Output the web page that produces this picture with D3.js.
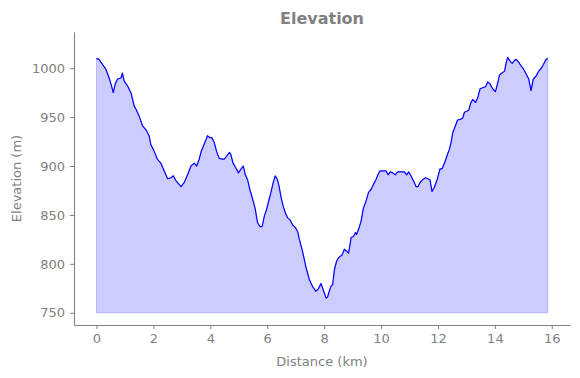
<!DOCTYPE html>
<html>
<head>
<meta charset="utf-8">
<script src="https://cdn.jsdelivr.net/npm/d3@7"></script>
<style>
  body { margin: 0; background: #fff; }
  svg { font-family: "DejaVu Sans", sans-serif; }
</style>
</head>
<body>
<svg id="svg" width="580" height="378"></svg>
<script>
const distance = [
	0, 0.09, 0.21, 0.33, 0.42, 0.51, 0.59, 0.66, 0.74, 0.86, 0.91, 0.97, 1.09, 1.21, 1.33, 1.39, 1.50, 1.62, 1.74, 1.85,
	1.91, 2.03, 2.14, 2.26, 2.38, 2.50, 2.62, 2.70, 2.79, 2.88, 2.97, 3.08, 3.20, 3.32, 3.44, 3.52, 3.61, 3.67, 3.75, 3.85,
	3.90, 3.99, 4.06, 4.14, 4.22, 4.31, 4.41, 4.49, 4.57, 4.67, 4.72, 4.80, 4.90, 4.99, 5.08, 5.16, 5.23, 5.31, 5.39, 5.49,
	5.58, 5.66, 5.75, 5.82, 5.90, 5.98, 6.05, 6.13, 6.21, 6.28, 6.36, 6.42, 6.48, 6.56, 6.64, 6.72, 6.80, 6.89, 6.99, 7.07,
	7.13, 7.24, 7.36, 7.48, 7.59, 7.71, 7.81, 7.89, 7.95, 8.01, 8.07, 8.12, 8.18, 8.24, 8.30, 8.36, 8.44, 8.53, 8.63, 8.71,
	8.79, 8.86, 8.95, 9.03, 9.10, 9.14, 9.24, 9.30, 9.38, 9.47, 9.56, 9.65, 9.73, 9.82, 9.89, 9.96, 10.06, 10.18, 10.25, 10.32,
	10.41, 10.50, 10.58, 10.70, 10.82, 10.90, 10.97, 11.05, 11.14, 11.23, 11.30, 11.37, 11.46, 11.56, 11.64, 11.72, 11.79, 11.87, 11.97, 12.07,
	12.14, 12.23, 12.31, 12.40, 12.46, 12.52, 12.61, 12.69, 12.81, 12.87, 12.93, 13.01, 13.08, 13.16, 13.22, 13.32, 13.40, 13.48, 13.57, 13.67,
	13.75, 13.83, 13.92, 14.02, 14.10, 14.16, 14.25, 14.34, 14.40, 14.45, 14.54, 14.61, 14.69, 14.75, 14.84, 14.93, 15.01, 15.10, 15.19, 15.27,
	15.35, 15.45, 15.54, 15.63, 15.71, 15.80, 15.86
]

const elevation = [
	1010, 1009, 1004, 999, 992, 984, 975, 984, 989, 990, 995, 987, 982, 975, 961, 958, 951, 941, 937, 931,
	922, 915, 907, 903, 895, 887, 888, 890, 885, 882, 879, 883, 891, 900, 903, 900, 907, 914, 920, 927,
	931, 929, 929, 924, 915, 908, 907, 907, 910, 914, 912, 903, 898, 893, 897, 900, 891, 886, 876, 866,
	856, 842, 838, 838, 849, 856, 864, 873, 883, 890, 886, 879, 869, 859, 852, 847, 845, 840, 837, 833,
	825, 813, 797, 784, 777, 772, 775, 780, 775, 770, 765, 766, 772, 777, 779, 794, 803, 807, 809, 815,
	813, 811, 827, 828, 832, 830, 838, 844, 857, 864, 873, 876, 881, 886, 891, 895, 895, 895, 891, 894,
	893, 891, 894, 894, 894, 891, 894, 890, 885, 879, 879, 883, 886, 888, 887, 886, 874, 878, 886, 897,
	897, 903, 910, 917, 924, 934, 941, 947, 948, 949, 955, 956, 957, 965, 968, 965, 970, 979, 980, 981,
	986, 984, 979, 976, 985, 993, 995, 997, 1006, 1011, 1007, 1005, 1008, 1009, 1006, 1002, 999, 994, 989, 977,
	989, 992, 997, 1000, 1004, 1009, 1010
]

const xTicks = [0, 2, 4, 6, 8, 10, 12, 14, 16]
const yTicks = [750, 800, 850, 900, 950, 1000]
const BASE = 750

const GRAY = '#808080'
const margin = { top: 32, right: 10, bottom: 53, left: 74 }
const width = 580, height = 378

const $svg = d3.select('#svg')

const xScale = d3.scaleLinear()
	.domain([-0.79, 16.64])
	.range([margin.left, width - margin.right])

const yScale = d3.scaleLinear()
	.domain([737.5, 1037])
	.range([height - margin.bottom, margin.top])

const points = distance.map((d, i) => ({ x: d, y: elevation[i] }))

const area = d3.area()
	.x(d => xScale(d.x))
	.y0(yScale(BASE))
	.y1(d => yScale(d.y))

const line = d3.line()
	.x(d => xScale(d.x))
	.y(d => yScale(d.y))

$svg.append('path')
	.attr('d', area(points))
	.attr('fill', 'rgba(0,0,255,0.2)')
	.attr('stroke', 'rgba(0,0,255,0.2)')
	.attr('stroke-width', 1)

$svg.append('path')
	.attr('d', line(points))
	.attr('fill', 'none')
	.attr('stroke', 'blue')
	.attr('stroke-width', 1.2)
	.attr('stroke-linejoin', 'round')

const styleAxis = $g => {
	$g.select('.domain').attr('stroke', GRAY).attr('stroke-width', 1.1)
	$g.selectAll('.tick line').attr('stroke', GRAY)
	$g.selectAll('.tick text')
		.attr('fill', GRAY)
		.style('font-size', '13px')
		.style('font-family', '"DejaVu Sans", sans-serif')
}

// tickSize sets the outer size too, so tickSizeOuter has to come after it
const xAxis = d3.axisBottom(xScale).tickValues(xTicks).tickFormat(d3.format('d'))
	.tickSize(4).tickSizeOuter(0).tickPadding(5)
$svg.append('g')
	.attr('transform', `translate(0, ${height - margin.bottom})`)
	.call(xAxis)
	.call(styleAxis)

const yAxis = d3.axisLeft(yScale).tickValues(yTicks).tickFormat(d3.format('d'))
	.tickSize(4).tickSizeOuter(0).tickPadding(5)
$svg.append('g')
	.attr('transform', `translate(${margin.left}, 0)`)
	.call(yAxis)
	.call(styleAxis)

$svg.append('text')
	.attr('x', (margin.left + width - margin.right) / 2)
	.attr('y', 24)
	.attr('text-anchor', 'middle')
	.attr('fill', GRAY)
	.style('font-size', '16px')
	.style('font-weight', 'bold')
	.text('Elevation')

$svg.append('text')
	.attr('x', (margin.left + width - margin.right) / 2)
	.attr('y', 366)
	.attr('text-anchor', 'middle')
	.attr('fill', GRAY)
	.style('font-size', '13px')
	.text('Distance (km)')

$svg.append('text')
	.attr('transform', `translate(21, ${(margin.top + height - margin.bottom) / 2}) rotate(-90)`)
	.attr('text-anchor', 'middle')
	.attr('fill', GRAY)
	.style('font-size', '13px')
	.text('Elevation (m)')
</script>
</body>
</html>
